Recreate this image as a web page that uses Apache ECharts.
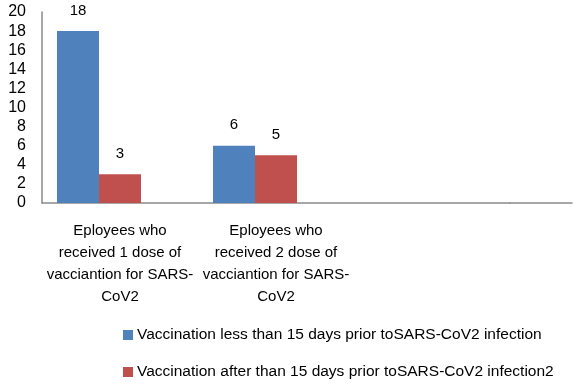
<!DOCTYPE html>
<html><head><meta charset="utf-8">
<script src="https://cdn.jsdelivr.net/npm/echarts@6/dist/echarts.min.js"></script>
<style>html,body{margin:0;padding:0;background:#fff}#c{width:574px;height:384px}</style>
</head><body><div id="c"></div>
<script>
var categories = ['Eployees who\nreceived 1 dose of\nvacciantion for SARS-\nCoV2', 'Eployees who\nreceived 2 dose of\nvacciantion for SARS-\nCoV2', ''];
var seriesNames = ['Vaccination less than 15 days prior toSARS-CoV2 infection', 'Vaccination after than 15 days prior toSARS-CoV2 infection2'];
var lessThan15 = [18, 6, null];
var afterThan15 = [3, 5, null];
var yTicks = [0, 2, 4, 6, 8, 10, 12, 14, 16, 18, 20];

var FONT = 'Liberation Sans';
var chart = echarts.init(document.getElementById('c'), null, {renderer: 'canvas'});
var axisColor = '#8a8a8a';
var lbl = {show: true, position: 'top', distance: 13, color: '#000', fontSize: 15, fontFamily: FONT};
chart.setOption({
  animation: false,
  textStyle: {fontFamily: FONT},
  grid: [
    {left: 42, top: 12, width: 468, bottom: 181, containLabel: false},
    {left: 510, top: 12, right: 2, bottom: 181, containLabel: false}
  ],
  xAxis: [
    {type: 'category', gridIndex: 0, data: categories,
     axisLine: {lineStyle: {color: axisColor, width: 1.5}}, axisTick: {show: false},
     axisLabel: {color: '#000', fontSize: 15, fontFamily: FONT, lineHeight: 22, margin: 17, interval: 0}},
    {type: 'category', gridIndex: 1, data: [''],
     axisLine: {lineStyle: {color: axisColor, width: 1.5}}, axisTick: {show: false}, axisLabel: {show: false}}
  ],
  yAxis: [
    {type: 'value', gridIndex: 0, min: yTicks[0], max: yTicks[yTicks.length - 1], interval: yTicks[1] - yTicks[0],
     splitLine: {show: false}, axisTick: {show: false},
     axisLine: {show: true, lineStyle: {color: axisColor, width: 1.5}},
     axisLabel: {color: '#000', fontSize: 16, fontFamily: FONT, margin: 16}},
    {type: 'value', gridIndex: 1, min: 0, max: 20, show: false}
  ],
  legend: {
    orient: 'vertical', left: 123, top: 327, padding: 0, itemWidth: 10, itemHeight: 10, itemGap: 21,
    height: 60,
    data: seriesNames,
    textStyle: {color: '#000', fontSize: 15.5, fontFamily: FONT, padding: [0, 0, 0, -1]},
    icon: 'rect'
  },
  series: [
    {name: seriesNames[0], type: 'bar', data: lessThan15, barWidth: 42, barGap: '0%',
     itemStyle: {color: '#4F81BD'}, label: lbl},
    {name: seriesNames[1], type: 'bar', data: afterThan15, barWidth: 42, barGap: '0%',
     itemStyle: {color: '#C0504D'}, label: lbl},
    {name: 'spacer', type: 'bar', data: categories.map(function(){return null;}), barWidth: 42, barGap: '0%',
     itemStyle: {color: 'rgba(0,0,0,0)'}}
  ]
});
</script></body></html>
